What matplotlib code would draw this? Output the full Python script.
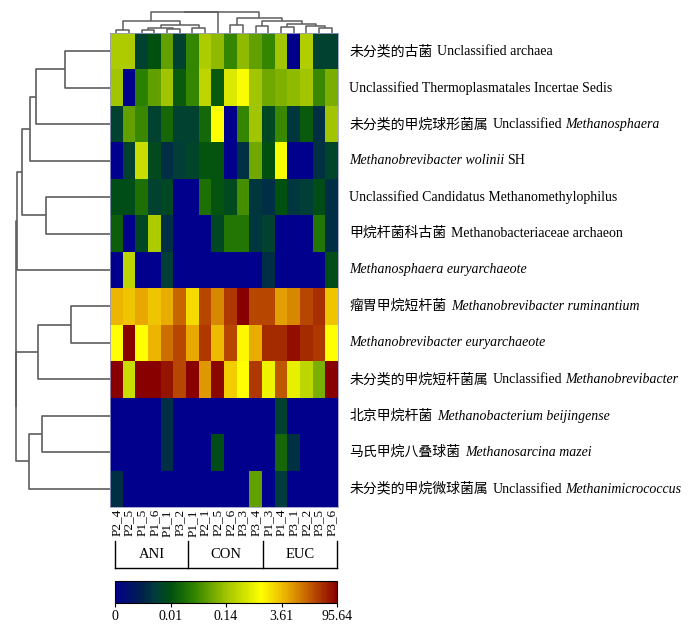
import re
import matplotlib
matplotlib.use('Agg')
import matplotlib.pyplot as plt
import numpy as np
from matplotlib.colors import LinearSegmentedColormap, Normalize
from matplotlib.cm import ScalarMappable
from matplotlib.offsetbox import TextArea, HPacker, AnnotationBbox
import matplotlib.transforms as mtransforms

plt.rcParams['font.family'] = ['Liberation Serif', 'Noto Sans CJK SC']

#%% data
samples = ['P2_4', 'P2_5', 'P1_5', 'P1_6', 'P1_1', 'P3_2',
           'P1_1', 'P2_1', 'P2_5', 'P2_6', 'P3_3', 'P3_4',
           'P1_3', 'P1_4', 'P3_1', 'P2_2', 'P3_5', 'P3_6']
groups = ['ANI', 'CON', 'EUC']

# *...* = italic
taxa = ['未分类的古菌 Unclassified archaea',
        'Unclassified Thermoplasmatales Incertae Sedis',
        '未分类的甲烷球形菌属 Unclassified *Methanosphaera*',
        '*Methanobrevibacter wolinii* SH',
        'Unclassified Candidatus Methanomethylophilus',
        '甲烷杆菌科古菌 Methanobacteriaceae archaeon',
        '*Methanosphaera euryarchaeote*',
        '瘤胃甲烷短杆菌 *Methanobrevibacter ruminantium*',
        '*Methanobrevibacter euryarchaeote*',
        '未分类的甲烷短杆菌属 Unclassified *Methanobrevibacter*',
        '北京甲烷杆菌 *Methanobacterium beijingense*',
        '马氏甲烷八叠球菌 *Methanosarcina mazei*',
        '未分类的甲烷微球菌属 Unclassified *Methanimicrococcus*']

# position of each cell on the colour scale (0 -> 0, 1 -> 95.64)
level = np.array([
    [0.52, 0.52, 0.20, 0.25, 0.42, 0.20, 0.36, 0.52, 0.48, 0.36, 0.48, 0.42, 0.36, 0.50, 0.00, 0.53, 0.20, 0.20],
    [0.50, 0.00, 0.35, 0.42, 0.50, 0.27, 0.36, 0.55, 0.27, 0.60, 0.65, 0.50, 0.44, 0.46, 0.48, 0.50, 0.37, 0.45],
    [0.20, 0.42, 0.37, 0.20, 0.30, 0.20, 0.20, 0.30, 0.66, 0.00, 0.36, 0.50, 0.22, 0.37, 0.17, 0.27, 0.15, 0.50],
    [0.00, 0.20, 0.57, 0.23, 0.15, 0.19, 0.21, 0.26, 0.26, 0.00, 0.16, 0.44, 0.25, 0.65, 0.00, 0.00, 0.16, 0.21],
    [0.24, 0.24, 0.32, 0.20, 0.22, 0.00, 0.00, 0.32, 0.26, 0.23, 0.38, 0.17, 0.15, 0.25, 0.17, 0.19, 0.24, 0.15],
    [0.28, 0.00, 0.22, 0.52, 0.15, 0.00, 0.00, 0.00, 0.22, 0.33, 0.33, 0.17, 0.20, 0.00, 0.00, 0.00, 0.33, 0.15],
    [0.00, 0.55, 0.00, 0.00, 0.19, 0.00, 0.00, 0.00, 0.00, 0.00, 0.00, 0.00, 0.15, 0.00, 0.00, 0.00, 0.00, 0.24],
    [0.76, 0.74, 0.78, 0.74, 0.77, 0.86, 0.71, 0.90, 0.82, 0.92, 1.00, 0.90, 0.90, 0.79, 0.82, 0.90, 0.93, 0.74],
    [0.66, 1.00, 0.66, 0.76, 0.85, 0.90, 0.78, 0.92, 0.75, 0.90, 0.67, 0.77, 0.94, 0.94, 0.98, 0.94, 0.92, 0.66],
    [1.00, 0.57, 1.00, 1.00, 0.97, 0.90, 1.00, 0.80, 0.99, 0.73, 0.66, 0.92, 0.63, 0.88, 0.62, 0.55, 0.45, 1.00],
    [0.00, 0.00, 0.00, 0.00, 0.15, 0.00, 0.00, 0.00, 0.00, 0.00, 0.00, 0.00, 0.00, 0.20, 0.00, 0.00, 0.00, 0.00],
    [0.00, 0.00, 0.00, 0.00, 0.15, 0.00, 0.00, 0.00, 0.24, 0.00, 0.00, 0.00, 0.00, 0.30, 0.16, 0.00, 0.00, 0.00],
    [0.15, 0.00, 0.00, 0.00, 0.00, 0.00, 0.00, 0.00, 0.00, 0.00, 0.00, 0.42, 0.00, 0.18, 0.00, 0.00, 0.00, 0.00],
])

scale_ticks = [0, 0.25, 0.5, 0.75, 1.0]
scale_labels = ['0', '0.01', '0.14', '3.61', '95.64']

# dendrograms: (child a, child b, height), leaves 0..n-1, new nodes n, n+1, ...
row_tree = [(0, 1, 45), (13, 2, 74.3), (14, 3, 80), (4, 5, 64.3), (15, 16, 88.3),
            (17, 6, 93.3), (7, 8, 39), (19, 9, 72.3), (10, 11, 68), (21, 12, 81.5),
            (20, 22, 94), (18, 23, 94.3)]
col_tree = [(0, 1, 3), (2, 3, 3), (4, 5, 4), (19, 20, 5.5), (6, 7, 5), (21, 22, 8),
            (18, 23, 12.3), (9, 10, 8), (11, 12, 7), (13, 14, 6), (16, 17, 5),
            (15, 28, 7), (27, 29, 9.5), (26, 30, 12.3), (25, 31, 14.7),
            (24, 8, 21.0), (33, 32, 21.3)]

#%% colours
cmap = LinearSegmentedColormap.from_list('abund', [
    (0.00, '#00008c'), (0.12, '#00204c'), (0.18, '#003c3c'), (0.25, '#005010'),
    (0.35, '#2c8000'), (0.50, '#a0c400'), (0.66, '#ffff00'), (0.78, '#e8a800'),
    (0.90, '#b84800'), (1.00, '#880000')])

W, H = 700, 630
fig = plt.figure(figsize=(7, 6.3), dpi=100)

def box(x0, y0, x1, y1):
    # pixel box (from top-left) -> figure fraction
    return [x0 / W, 1 - y1 / H, (x1 - x0) / W, (y1 - y0) / H]

nr, nc = level.shape
ax = fig.add_axes(box(110, 33, 338, 507))
ax.pcolormesh(np.arange(nc + 1), np.arange(nr + 1), level, cmap=cmap, vmin=0, vmax=1)
ax.set_xlim(0, nc)
ax.set_ylim(nr, 0)
ax.set_yticks([])
ax.set_xticks(np.arange(nc) + 0.5)
ax.set_xticklabels(samples, rotation=90, fontsize=9.5)
ax.tick_params(axis='x', length=0, pad=1.5)
for s in ax.spines.values():
    s.set_color('#9a9ac8')
    s.set_linewidth(0.6)

# row labels: chinese name, then latin runs (italic where marked)
for i, lab in enumerate(taxa):
    m = re.match(r'^([\u4e00-\u9fff]+)\s*(.*)$', lab)
    cjk, latin = (m.group(1), m.group(2)) if m else ('', lab)
    runs = []
    for j, seg in enumerate(latin.split('*')):
        seg = seg.strip()
        if seg:
            runs.append(TextArea(seg, textprops=dict(fontsize=10,
                                                     fontstyle='italic' if j % 2 else 'normal')))
    pack = HPacker(children=runs, align='baseline', pad=0, sep=1.8)
    if cjk:
        pack = HPacker(children=[TextArea(cjk, textprops=dict(fontsize=10)), pack],
                       align='baseline', pad=0, sep=3.6)
    ab = AnnotationBbox(pack, (1.0, i + 0.5), xycoords=ax.get_yaxis_transform(),
                        xybox=(8, 0), boxcoords='offset points',
                        box_alignment=(0, 0.5), frameon=False, pad=0)
    ax.add_artist(ab)

# dendrograms
def draw_tree(dax, tree, n, vertical):
    pos = {k: k + 0.5 for k in range(n)}
    hgt = {k: 0.0 for k in range(n)}
    for k, (a, b, h) in enumerate(tree):
        p = [pos[a], pos[a], pos[b], pos[b]]
        q = [hgt[a], h, h, hgt[b]]
        if vertical:
            dax.plot(p, q, color='#5e5e5e', lw=1.1, solid_capstyle='butt')
        else:
            dax.plot(q, p, color='#5e5e5e', lw=1.2, solid_capstyle='butt')
        pos[n + k] = (pos[a] + pos[b]) / 2
        hgt[n + k] = h

lax = fig.add_axes(box(0, 33, 110, 507))
draw_tree(lax, row_tree, nr, False)
lax.set_xlim(110, 0)
lax.set_ylim(nr, 0)
lax.axis('off')

tax = fig.add_axes(box(110, 0, 338, 33))
draw_tree(tax, col_tree, nc, True)
tax.set_xlim(0, nc)
tax.set_ylim(0, 33)
tax.axis('off')

# group brackets
trans = mtransforms.blended_transform_factory(ax.transData, fig.transFigure)
edges = [0.4, 6.15, 12.1, 17.95]
ytop, ybot = 1 - 541 / H, 1 - 568 / H
for e in edges:
    fig.add_artist(plt.Line2D([e, e], [ytop, ybot], transform=trans, color='black', lw=1.0))
fig.add_artist(plt.Line2D([edges[0], edges[-1]], [ybot, ybot], transform=trans, color='black', lw=1.0))
for g, a, b in zip(groups, edges[:-1], edges[1:]):
    fig.text((a + b) / 2, 1 - 555 / H, g, transform=trans, ha='center', va='center', fontsize=10.5)

# colour key
cax = fig.add_axes(box(115, 581, 337, 603))
cb = fig.colorbar(ScalarMappable(norm=Normalize(0, 1), cmap=cmap), cax=cax, orientation='horizontal')
cb.set_ticks(scale_ticks)
cb.set_ticklabels(scale_labels)
cb.outline.set_linewidth(0.8)
cax.tick_params(length=3, width=0.8, labelsize=10, pad=2)

fig.savefig('out.png', dpi=100)
